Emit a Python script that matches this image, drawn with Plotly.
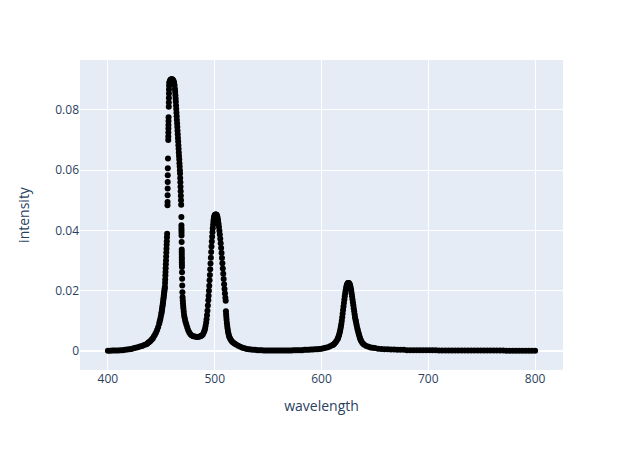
import plotly.graph_objects as go

# baseline before the blue line
wl_uv = [400, 402, 404, 406, 408, 410, 412, 414, 416, 418, 420, 422, 424, 426, 428, 430,
         432, 434, 436, 437, 438, 439, 440, 441, 442, 443, 444, 445, 446, 447, 448, 448.5,
         449, 449.5, 450]
int_uv = [0.0000, 0.0000, 0.0001, 0.0001, 0.0001, 0.0001, 0.0002, 0.0002, 0.0003, 0.0004,
          0.0005, 0.0006, 0.0008, 0.0010, 0.0012, 0.0014, 0.0016, 0.0019, 0.0022, 0.0024,
          0.0027, 0.0030, 0.0033, 0.0037, 0.0041, 0.0047, 0.0053, 0.0060, 0.0068, 0.0078,
          0.0090, 0.0097, 0.0105, 0.0113, 0.0122]

# blue peak (~460 nm)
wl_blue = [450.25, 450.5, 450.75, 451, 451.25, 451.5, 451.75, 452, 452.2, 452.4, 452.6, 452.8,
           453.0, 453.2,
           453.35, 453.5, 453.65, 453.8, 453.95, 454.1, 454.25, 454.4, 454.55, 454.7, 454.85,
           455.0, 455.15, 455.3, 455.45,
           455.8, 455.85, 455.9, 455.95, 456.0, 456.05, 456.1,
           456.25,
           456.5, 456.55, 456.6, 456.65, 456.7, 456.75, 456.8,
           457.0, 457.05, 457.1, 457.15, 457.2, 457.3, 457.45,
           457.8, 458.2, 458.6, 459.0, 459.5, 460.0, 460.5, 461.0, 461.5, 462.0, 462.4, 462.8,
           463.0, 463.2, 463.4, 463.6, 463.8, 464.0, 464.2, 464.4, 464.6, 464.8, 465.0, 465.2,
           465.4, 465.6, 465.8, 466.0, 466.2, 466.4, 466.6, 466.8, 467.0, 467.2, 467.4,
           467.55, 467.7, 467.85, 468.0, 468.15, 468.3, 468.45, 468.6,
           468.8,
           468.85, 468.87, 468.9, 468.92, 468.95, 469.05, 469.12, 469.15, 469.17, 469.2, 469.22,
           469.25, 469.27, 469.3, 469.4, 469.5, 469.6, 469.75, 469.9,
           470.1, 470.3, 470.5, 470.7, 471.0, 471.3, 471.7, 472.2, 472.8, 473.5, 474.3, 475.2,
           476.2, 477.3, 478.5, 480, 481.5, 483, 484.5, 486, 487, 488, 489, 490]
int_blue = [0.0127, 0.0133, 0.0139, 0.0145, 0.0151, 0.0158, 0.0165, 0.0172, 0.0178, 0.0184,
            0.0190, 0.0196, 0.0202, 0.0208,
            0.0213, 0.0225, 0.0237, 0.0250, 0.0262, 0.0274, 0.0287, 0.0300, 0.0313, 0.0326,
            0.0339, 0.0352, 0.0364, 0.0377, 0.0389,
            0.0483, 0.0494, 0.0517, 0.0539, 0.0561, 0.0583, 0.0606,
            0.0639,
            0.0700, 0.0712, 0.0725, 0.0738, 0.0750, 0.0763, 0.0776,
            0.0811, 0.0825, 0.0840, 0.0855, 0.0868, 0.0880, 0.0890,
            0.0893, 0.0897, 0.0900, 0.0901, 0.0902, 0.0902, 0.0901, 0.0899, 0.0896, 0.0890,
            0.0882, 0.0870,
            0.0860, 0.0849, 0.0838, 0.0827, 0.0815, 0.0803, 0.0791, 0.0779, 0.0767, 0.0755,
            0.0743, 0.0731, 0.0719, 0.0707, 0.0695, 0.0683, 0.0671, 0.0659, 0.0647, 0.0635,
            0.0623, 0.0612, 0.0600,
            0.0589, 0.0574, 0.0560, 0.0545, 0.0530, 0.0515, 0.0500, 0.0485,
            0.0444,
            0.0417, 0.0408, 0.0400, 0.0392, 0.0383, 0.0361, 0.0336, 0.0328, 0.0320, 0.0311,
            0.0303, 0.0294, 0.0286, 0.0278, 0.0261, 0.0239, 0.0217, 0.0194, 0.0178,
            0.0168, 0.0158, 0.0149, 0.0140, 0.0130, 0.0120, 0.0111, 0.0103, 0.0095, 0.0086,
            0.0077, 0.0068, 0.0061, 0.0055, 0.0051, 0.0048, 0.0047, 0.0046, 0.0046, 0.0047,
            0.0049, 0.0051, 0.0055, 0.0062]

# green peak (~501 nm)
wl_green = [490.5, 491, 491.5, 492, 492.4, 492.8, 493.2, 493.6, 494.0, 494.3, 494.6, 494.9,
            495.2, 495.5, 495.8, 496.1, 496.4, 496.7, 497.0, 497.3, 497.6, 497.9, 498.2, 498.5,
            498.8, 499.1, 499.4, 499.7, 500.0, 500.4, 500.8, 501.2, 501.6, 502.0, 502.4, 502.8,
            503.2, 503.6, 504.0, 504.4, 504.8, 505.2, 505.6, 506.0, 506.4, 506.8, 507.2, 507.6,
            508.0, 508.4, 508.8, 509.2, 509.6, 510.0, 510.3,
            510.5, 510.7, 510.9, 511.1, 511.4, 511.7, 512.0, 512.4, 512.8, 513.3, 513.8, 514.5,
            515.3, 516.2, 517.2, 518.5, 520, 522, 524, 526, 528, 530, 532, 534, 536, 538, 540]
int_green = [0.0067, 0.0074, 0.0083, 0.0094, 0.0105, 0.0118, 0.0133, 0.0150, 0.0168, 0.0183,
             0.0199, 0.0216, 0.0234, 0.0252, 0.0271, 0.0290, 0.0309, 0.0328, 0.0346, 0.0363,
             0.0379, 0.0394, 0.0407, 0.0419, 0.0429, 0.0437, 0.0443, 0.0447, 0.0450, 0.0452,
             0.0453, 0.0453, 0.0452, 0.0450, 0.0446, 0.0440, 0.0432, 0.0422, 0.0411, 0.0399,
             0.0386, 0.0372, 0.0357, 0.0341, 0.0325, 0.0308, 0.0291, 0.0273, 0.0256, 0.0238,
             0.0221, 0.0205, 0.0190, 0.0176, 0.0166,
             0.0131, 0.0121, 0.0112, 0.0103, 0.0092, 0.0083, 0.0075, 0.0066, 0.0058, 0.0051,
             0.0045, 0.0040, 0.0035, 0.0031, 0.0027, 0.0024, 0.0021, 0.0017, 0.0013, 0.0010,
             0.0008, 0.0006, 0.0005, 0.0004, 0.0003, 0.0003, 0.0002]

# flat region between green and red
wl_mid = [542, 544, 546, 548, 550, 552, 554, 556, 558, 560, 562, 564, 566, 568, 570, 572, 574,
          576, 578, 580, 582, 584, 586, 588, 590, 592, 594, 596, 598, 600, 602, 604, 606, 608,
          610]
int_mid = [0.0002, 0.0002, 0.0001, 0.0001, 0.0001, 0.0001, 0.0001, 0.0001, 0.0001, 0.0001,
           0.0001, 0.0001, 0.0001, 0.0001, 0.0001, 0.0001, 0.0002, 0.0002, 0.0002, 0.0002,
           0.0002, 0.0003, 0.0003, 0.0003, 0.0004, 0.0004, 0.0005, 0.0005, 0.0006, 0.0007,
           0.0008, 0.0010, 0.0012, 0.0015, 0.0018]

# red peak (~625 nm)
wl_red = [611, 612, 613, 614, 615, 615.5, 616, 616.5, 617, 617.4, 617.8, 618.2, 618.6, 619.0,
          619.4, 619.8, 620.2, 620.6, 621.0, 621.4, 621.8, 622.2, 622.6, 623.0, 623.4, 623.8,
          624.2, 624.6, 625.0, 625.4, 625.8, 626.2, 626.6, 627.0, 627.4, 627.8, 628.2, 628.6,
          629.0, 629.4, 629.8, 630.2, 630.6, 631.0, 631.4, 631.8, 632.2, 632.6, 633.0, 633.5,
          634.0, 634.5, 635.0, 635.5, 636.0, 636.5, 637, 638, 639, 640, 642, 644, 646, 648,
          650, 653, 656]
int_red = [0.0020, 0.0023, 0.0027, 0.0032, 0.0038, 0.0042, 0.0047, 0.0053, 0.0060, 0.0066,
           0.0073, 0.0081, 0.0090, 0.0100, 0.0111, 0.0123, 0.0135, 0.0147, 0.0159, 0.0170,
           0.0181, 0.0191, 0.0200, 0.0208, 0.0214, 0.0219, 0.0222, 0.0224, 0.0225, 0.0225,
           0.0224, 0.0222, 0.0219, 0.0214, 0.0208, 0.0200, 0.0191, 0.0181, 0.0171, 0.0161,
           0.0151, 0.0141, 0.0131, 0.0121, 0.0111, 0.0104, 0.0098, 0.0090, 0.0083, 0.0075,
           0.0068, 0.0061, 0.0055, 0.0048, 0.0042, 0.0037, 0.0033, 0.0027, 0.0023, 0.0020,
           0.0016, 0.0013, 0.0011, 0.0010, 0.0009, 0.0007, 0.0006]

# tail out to 800 nm
wl_ir = [659, 662, 665, 668, 671, 674, 677, 680, 683, 686, 689, 692, 695, 698, 701, 704, 707,
         710, 713, 716, 719, 722, 725, 728, 731, 734, 737, 740, 743, 746, 749, 752, 755, 758,
         761, 764, 767, 770, 773, 776, 779, 782, 785, 788, 791, 794, 797, 800]
int_ir = [0.0005, 0.0005, 0.0004, 0.0004, 0.0003, 0.0003, 0.0003, 0.0002, 0.0002, 0.0002,
          0.0002, 0.0002, 0.0002, 0.0002, 0.0002, 0.0002, 0.0002, 0.0001, 0.0001, 0.0001,
          0.0001, 0.0001, 0.0001, 0.0001, 0.0001, 0.0001, 0.0001, 0.0001, 0.0001, 0.0001,
          0.0001, 0.0001, 0.0001, 0.0001, 0.0001, 0.0001, 0.0001, 0.0001, 0.0000, 0.0000,
          0.0000, 0.0000, 0.0000, 0.0000, 0.0000, 0.0000, 0.0000, 0.0000]

wavelength = wl_uv + wl_blue + wl_green + wl_mid + wl_red + wl_ir
intensity = int_uv + int_blue + int_green + int_mid + int_red + int_ir

fig = go.Figure()
fig.add_trace(go.Scatter(x=wavelength, y=intensity, mode='markers',
                         marker=dict(color='black', size=6)))

# page has an 8px body margin, so shift the margins to put the plot area where it should be
fig.update_layout(width=643, height=450,
                  margin=dict(l=72, r=88, t=52, b=88),
                  xaxis_title='wavelength',
                  yaxis=dict(title=dict(text='intensity', standoff=22)))

fig.write_html("out.html")
